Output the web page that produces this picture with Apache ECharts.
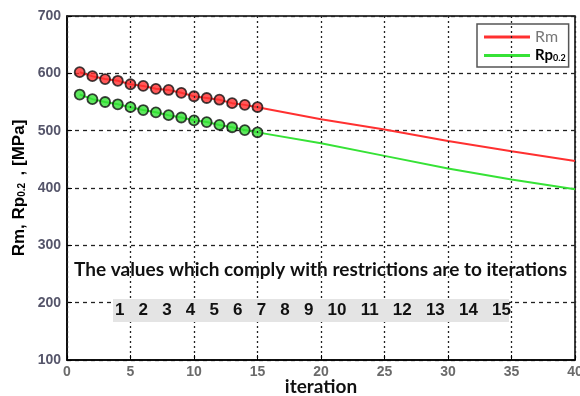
<!DOCTYPE html>
<html>
<head>
<meta charset="utf-8">
<script src="https://cdn.jsdelivr.net/npm/echarts@6/dist/echarts.min.js"></script>
<style>
  html, body { margin: 0; padding: 0; background: #fff; }
  #chart { width: 580px; height: 396px; }
</style>
</head>
<body>
<div id="chart"></div>
<script>
// iterations that comply with the restrictions (marked with circles)
var markedIter = [1, 2, 3, 4, 5, 6, 7, 8, 9, 10, 11, 12, 13, 14, 15];
var rmMarked = [602, 595, 590, 587, 581, 578, 573, 571, 566, 560, 557, 554, 548, 545, 541];
var rpMarked = [563, 555, 550, 546, 541, 536, 532, 527, 523, 518, 515, 510, 506, 501, 497];
// rest of the curves
var tailIter = [20, 25, 30, 35, 40];
var rmTail = [520, 502, 482, 464, 447];
var rpTail = [478, 456, 434, 415, 398];

var xTicks = { min: 0, max: 40, step: 5 };
var yTicks = { min: 100, max: 700, step: 100 };
var boxNumbers = [1, 2, 3, 4, 5, 6, 7, 8, 9, 10, 11, 12, 13, 14, 15];
var noteText = 'The values which comply with restrictions are to iterations';

function pairs(xs, ys) {
    return xs.map(function (x, i) { return [x, ys[i]]; });
}

var rmLine = pairs(markedIter, rmMarked).concat(pairs(tailIter, rmTail));
var rpLine = pairs(markedIter, rpMarked).concat(pairs(tailIter, rpTail));

var RED = '#ff3030';
var GREEN = '#36e236';

var chart = echarts.init(document.getElementById('chart'));
var option = {
    animation: false,
    grid: {
        left: 67, right: 5, top: 16, bottom: 36,
        outerBoundsMode: 'none',
        show: true, borderColor: '#000', borderWidth: 1.5
    },
    legend: {
        data: [{ name: 'Rm', icon: 'rect' }, { name: 'Rp0.2', icon: 'rect' }],
        orient: 'vertical',
        left: 477, top: 24,
        padding: [5, 3, 4, 7],
        itemGap: 3,
        itemWidth: 46, itemHeight: 3,
        backgroundColor: '#fff',
        borderColor: '#555', borderWidth: 1.5,
        formatter: function (name) {
            return name === 'Rm' ? '{rm|Rm}' : '{rp|Rp}{sub|0.2}';
        },
        textStyle: {
            rich: {
                rm: { fontFamily: 'Lato', fontSize: 16, color: '#777' },
                rp: { fontFamily: 'Lato', fontSize: 15, fontWeight: 'bold', color: '#000' },
                sub: { fontFamily: 'Lato', fontSize: 9, fontWeight: 'bold', color: '#000', padding: [5, 0, 0, 0] }
            }
        }
    },
    xAxis: {
        type: 'value',
        min: xTicks.min, max: xTicks.max, interval: xTicks.step,
        name: 'iteration',
        nameLocation: 'middle',
        nameGap: 17,
        nameMoveOverlap: false,
        nameTextStyle: { fontFamily: 'Lato', fontWeight: 'bold', fontSize: 19, color: '#111' },
        axisLine: { lineStyle: { color: '#000', width: 1.5 } },
        axisTick: { inside: true, length: 5, lineStyle: { color: '#000' } },
        axisLabel: { fontFamily: 'Liberation Sans', fontSize: 14, fontWeight: 'bold', color: '#6a6a6a', margin: 5 },
        splitLine: { show: true, lineStyle: { color: '#222', width: 1.3, type: [2, 3] } },
        z: 10
    },
    yAxis: {
        type: 'value',
        min: yTicks.min, max: yTicks.max, interval: yTicks.step,
        name: '{t|Rm, Rp}{s|0.2 }{t| , [MPa]}',
        nameLocation: 'middle',
        nameRotate: 90,
        nameGap: 39,
        nameMoveOverlap: false,
        nameTextStyle: {
            rich: {
                t: { fontFamily: 'Liberation Sans', fontWeight: 'bold', fontSize: 17, color: '#000' },
                s: { fontFamily: 'Liberation Sans', fontWeight: 'bold', fontSize: 10, color: '#000', padding: [6, 0, 0, 0] }
            }
        },
        axisLine: { lineStyle: { color: '#000', width: 1.5 } },
        axisTick: { inside: true, length: 5, lineStyle: { color: '#000' } },
        axisLabel: { fontFamily: 'Liberation Sans', fontSize: 14, fontWeight: 'bold', color: '#55556a', margin: 6 },
        splitLine: { show: true, lineStyle: { color: '#222', width: 1.3, type: [4, 4] } }
    },
    graphic: [
        {
            type: 'text', z: 6,
            left: 71, top: 258,
            style: {
                text: noteText,
                fontFamily: 'Lato', fontWeight: 'bold', fontSize: 19, fill: '#111',
                backgroundColor: '#fff', padding: [2, 3, 2, 3]
            }
        },
        {
            type: 'rect', z: 20,
            shape: { x: 113, y: 299, width: 396, height: 23 },
            style: { fill: '#e4e4e4' }
        },
        {
            type: 'text', z: 21,
            left: 115, top: 302,
            style: {
                text: boxNumbers.join('   '),
                fontFamily: 'Liberation Sans', fontWeight: 'bold', fontSize: 17, fill: '#111'
            }
        }
    ],
    series: [
        {
            name: 'Rm', type: 'line', data: rmLine,
            showSymbol: false, color: RED,
            lineStyle: { color: RED, width: 2 }, z: 3
        },
        {
            name: 'Rp0.2', type: 'line', data: rpLine,
            showSymbol: false, color: GREEN,
            lineStyle: { color: GREEN, width: 2 }, z: 3
        },
        {
            name: 'Rm marked', type: 'scatter', data: pairs(markedIter, rmMarked),
            symbolSize: 10,
            itemStyle: { color: RED, borderColor: '#111', borderWidth: 1.8 }, z: 4
        },
        {
            name: 'Rp marked', type: 'scatter', data: pairs(markedIter, rpMarked),
            symbolSize: 10,
            itemStyle: { color: GREEN, borderColor: '#111', borderWidth: 1.8 }, z: 4
        }
    ]
};
chart.setOption(option);
</script>
</body>
</html>
